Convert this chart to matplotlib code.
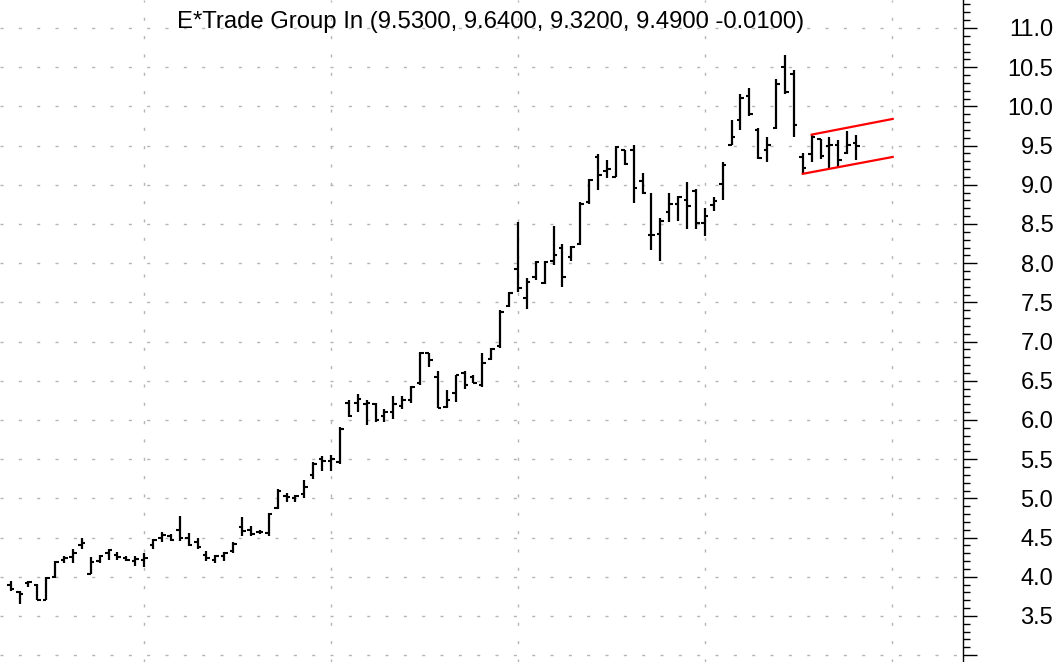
import matplotlib
matplotlib.use("Agg")
import matplotlib.pyplot as plt
from matplotlib.ticker import MultipleLocator, FixedLocator

plt.rcParams['font.family'] = ['Liberation Sans', 'DejaVu Sans']

# OHLC diario
abertura = [3.90, 3.80, 3.92, 3.90, 3.71, 4.00, 4.22, 4.25, 4.40, 4.04,
            4.20, 4.30, 4.28, 4.24, 4.20, 4.22, 4.40, 4.50, 4.52, 4.60,
            4.50, 4.45, 4.28, 4.22, 4.26, 4.33, 4.64, 4.60, 4.57, 4.56,
            4.88, 5.03, 5.00, 5.05, 5.30, 5.50, 5.48, 5.46, 6.22, 6.22,
            6.20, 6.20, 6.05, 6.10, 6.18, 6.25, 6.47, 6.85, 6.55, 6.17,
            6.35, 6.60, 6.55, 6.45, 6.78, 6.95, 7.46, 7.93, 7.55, 7.83,
            7.75, 8.03, 8.20, 8.08, 8.24, 8.78, 9.36, 9.18, 9.10, 9.44,
            9.45, 9.05, 8.36, 8.37, 8.65, 8.75, 8.80, 8.92, 8.51, 8.74,
            9.01, 9.51, 9.83, 10.13, 9.70, 9.45, 9.73, 10.50, 10.41, 9.35,
            9.39, 9.58, 9.50, 9.51, 9.40, 9.53]
maxima = [3.95, 3.82, 3.95, 3.91, 4.00, 4.20, 4.27, 4.35, 4.49, 4.25,
          4.28, 4.35, 4.32, 4.27, 4.26, 4.30, 4.48, 4.57, 4.55, 4.78,
          4.56, 4.50, 4.33, 4.28, 4.32, 4.45, 4.76, 4.65, 4.60, 4.81,
          5.12, 5.07, 5.04, 5.24, 5.46, 5.54, 5.55, 5.91, 6.26, 6.33,
          6.25, 6.22, 6.14, 6.31, 6.31, 6.43, 6.87, 6.86, 6.62, 6.38,
          6.57, 6.62, 6.57, 6.85, 6.92, 7.40, 7.63, 8.52, 7.81, 8.03,
          8.03, 8.47, 8.24, 8.22, 8.78, 9.08, 9.39, 9.32, 9.49, 9.44,
          9.51, 9.15, 8.89, 8.58, 8.89, 8.86, 9.03, 8.95, 8.71, 8.84,
          9.29, 9.82, 10.16, 10.24, 9.73, 9.61, 10.35, 10.65, 10.46, 9.41,
          9.63, 9.58, 9.61, 9.57, 9.69, 9.64]
minimas = [3.82, 3.65, 3.87, 3.71, 3.71, 3.99, 4.18, 4.18, 4.35, 4.04,
           4.18, 4.22, 4.22, 4.20, 4.14, 4.12, 4.36, 4.44, 4.46, 4.46,
           4.39, 4.35, 4.20, 4.17, 4.20, 4.30, 4.52, 4.52, 4.54, 4.52,
           4.86, 4.95, 4.95, 5.01, 5.25, 5.35, 5.35, 5.44, 6.04, 6.10,
           5.94, 5.98, 5.98, 6.01, 6.14, 6.22, 6.45, 6.68, 6.15, 6.15,
           6.23, 6.40, 6.47, 6.42, 6.76, 6.92, 7.44, 7.63, 7.42, 7.79,
           7.73, 7.98, 7.70, 8.03, 8.23, 8.76, 8.93, 9.09, 9.10, 9.25,
           8.77, 8.88, 8.17, 8.03, 8.53, 8.54, 8.44, 8.44, 8.35, 8.67,
           8.80, 9.51, 9.70, 9.88, 9.33, 9.29, 9.71, 10.16, 9.61, 9.14,
           9.29, 9.33, 9.20, 9.23, 9.39, 9.32]
fechamento = [3.85, 3.78, 3.93, 3.71, 3.98, 4.19, 4.24, 4.30, 4.43, 4.19,
              4.26, 4.34, 4.25, 4.22, 4.23, 4.24, 4.47, 4.53, 4.47, 4.50,
              4.40, 4.38, 4.24, 4.26, 4.30, 4.42, 4.58, 4.55, 4.57, 4.80,
              5.10, 5.02, 5.03, 5.15, 5.44, 5.48, 5.50, 5.88, 6.05, 6.27,
              6.22, 6.00, 6.10, 6.20, 6.25, 6.42, 6.86, 6.77, 6.15, 6.25,
              6.57, 6.45, 6.47, 6.73, 6.91, 7.38, 7.62, 7.68, 7.76, 8.02,
              8.01, 8.10, 7.83, 8.21, 8.76, 9.06, 9.12, 9.20, 9.48, 9.27,
              8.96, 8.90, 8.36, 8.54, 8.75, 8.85, 8.73, 8.51, 8.60, 8.79,
              9.25, 9.61, 10.11, 9.90, 9.34, 9.51, 10.29, 10.18, 9.76, 9.22,
              9.61, 9.37, 9.51, 9.31, 9.51, 9.49]

# canal desenhado a mao (vermelho)
canal_sup_x = [90, 99.1]
canal_sup_y = [9.64, 9.84]
canal_inf_x = [89, 99.1]
canal_inf_y = [9.14, 9.355]

# divisoes de mes (indices dos pregões)
divisoes_mes = [15, 36, 57, 78, 99]

titulo = "E*Trade Group In (9.5300, 9.6400, 9.3200, 9.4900 -0.0100)"

fig = plt.figure(figsize=(10.61, 6.62), dpi=100)
ax = fig.add_axes([0, 0, 963 / 1061, 1])

pontilhado = (0, (2.2, 11.0))
for v in [3.0 + 0.5 * k for k in range(17)]:
    ax.axhline(v, color='#b4b4b4', lw=1.0, ls=pontilhado, zorder=1)
for d in divisoes_mes:
    ax.axvline(d, color='#b4b4b4', lw=1.0, ls=pontilhado, zorder=1)

n = len(abertura)
x = list(range(n))
meio = 0.4
ax.vlines(x, minimas, maxima, color='black', lw=1.6, zorder=3)
ax.hlines(abertura, [i - meio for i in x], x, color='black', lw=1.5, zorder=3)
ax.hlines(fechamento, x, [i + meio for i in x], color='black', lw=1.5, zorder=3)

ax.plot(canal_sup_x, canal_sup_y, color='red', lw=1.6, zorder=4)
ax.plot(canal_inf_x, canal_inf_y, color='red', lw=1.6, zorder=4)

ax.set_xlim(-1.2, 107.0)
ax.set_ylim(2.913, 11.357)

for lado in ['left', 'top', 'bottom']:
    ax.spines[lado].set_visible(False)
ax.spines['right'].set_color('black')
ax.spines['right'].set_linewidth(1.0)

ax.set_xticks([])
ax.yaxis.tick_right()
marcas = [3.0 + 0.5 * k for k in range(17)]
ax.yaxis.set_major_locator(FixedLocator(marcas))
ax.yaxis.set_minor_locator(MultipleLocator(0.1))
ax.set_yticklabels(['' if m == 3.0 else f'{m:.1f}' for m in marcas])
ax.tick_params(axis='y', which='major', length=10, width=1.0, direction='out',
               pad=55, labelsize=17, colors='black')
ax.tick_params(axis='y', which='minor', length=5, width=1.0, direction='out')
for t in ax.get_yticklabels():
    t.set_horizontalalignment('right')

fig.text(491 / 1061, 1 - 28 / 662, titulo, ha='center', va='baseline',
         fontsize=17.2, color='black')

fig.savefig('out.png', dpi=100)
